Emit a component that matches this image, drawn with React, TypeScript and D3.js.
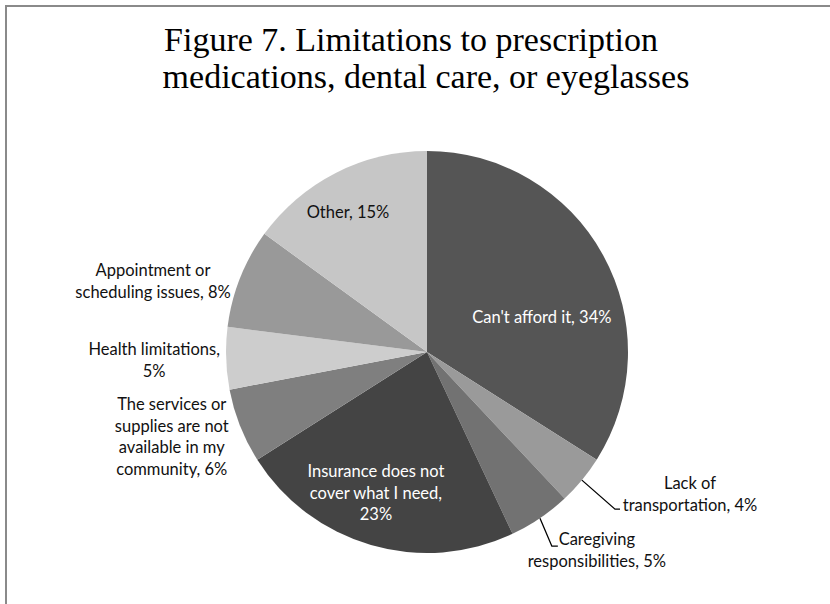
import React from "react";
import * as d3 from "d3";

const categories = [
  "Can't afford it",
  "Lack of transportation",
  "Caregiving responsibilities",
  "Insurance does not cover what I need",
  "The services or supplies are not available in my community",
  "Health limitations",
  "Appointment or scheduling issues",
  "Other",
];
const values = [34, 4, 5, 23, 6, 5, 8, 15];
const labelLines = [
  ["Can't afford it, 34%"],
  ["Lack of", "transportation, 4%"],
  ["Caregiving", "responsibilities, 5%"],
  ["Insurance does not", "cover what I need,", "23%"],
  ["The services or", "supplies are not", "available in my", "community, 6%"],
  ["Health limitations,", "5%"],
  ["Appointment or", "scheduling issues, 8%"],
  ["Other, 15%"],
];
const titleLines = [
  "Figure 7. Limitations to prescription",
  "medications, dental care, or eyeglasses",
];

// styling / layout (not data)
const colors = ["#555555", "#9a9a9a", "#727272", "#444444", "#7f7f7f", "#cdcdcd", "#999999", "#c6c6c6"];
const textColors = ["#ffffff", "#111", "#111", "#ffffff", "#111", "#111", "#111", "#111"];
const titleX = [411, 426];
// label block centre relative to pie centre, in polar form (deg clockwise from 12 o'clock, radius px)
const labelPolar = [
  [73.1, 120],
  [118.4, 299],
  [139.4, 261],
  [199.9, 150],
  [251.6, 269],
  [268.3, 273],
  [284.5, 283],
  [330.6, 161],
];
// leader line: [elbow dx, end dx, dy] relative to label centre, or null
const leaders: (number[] | null)[] = [
  null,
  [-75, -70, 15],
  [-45, -39, -4],
  null,
  null,
  null,
  null,
  null,
];

const W = 830;
const H = 604;
const cx = 427;
const cy = 352;
const R = 201;
const lineH = 21.5;

export default function App() {
  const pie = d3.pie<number>().value((d) => d).sort(null);
  const arcs = pie(values);
  const arcGen = d3.arc<d3.PieArcDatum<number>>().innerRadius(0).outerRadius(R);

  const polar = (deg: number, r: number) => {
    const a = (deg * Math.PI) / 180;
    return [Math.sin(a) * r, -Math.cos(a) * r];
  };

  return (
    <svg
      width={W}
      height={H}
      style={{ position: "absolute", left: 0, top: 0, background: "#fff" }}
    >
      <rect x={0} y={0} width={W} height={H} fill="#fff" />
      <rect x={6} y={6} width={W + 20} height={H + 20} fill="none" stroke="#8a8a8a" strokeWidth={2} />
      <g fontFamily="'Liberation Serif', 'Times New Roman', serif" fontSize={34} fill="#000" textAnchor="middle">
        {titleLines.map((t, i) => (
          <text key={i} x={titleX[i]} y={51 + i * 37}>
            {t}
          </text>
        ))}
      </g>
      <g transform={`translate(${cx},${cy})`}>
        {arcs.map((a, i) => (
          <path key={categories[i]} d={arcGen(a) || ""} fill={colors[i]} />
        ))}
        {arcs.map((a, i) => {
          const [lx, ly] = polar(labelPolar[i][0], labelPolar[i][1]);
          const lines = labelLines[i];
          const top = ly - ((lines.length - 1) * lineH) / 2;
          let leader = null;
          const ld = leaders[i];
          if (ld) {
            const mid = (a.startAngle + a.endAngle) / 2;
            const sx = Math.sin(mid) * R;
            const sy = -Math.cos(mid) * R;
            leader = (
              <polyline
                points={`${sx},${sy} ${lx + ld[0]},${ly + ld[2]} ${lx + ld[1]},${ly + ld[2]}`}
                fill="none"
                stroke="#000"
                strokeWidth={1.3}
              />
            );
          }
          return (
            <g key={"l" + i}>
              {leader}
              <text
                fontFamily="Lato, 'Open Sans', sans-serif"
                fontSize={16.5}
                fill={textColors[i]}
                textAnchor="middle"
              >
                {lines.map((t, j) => (
                  <tspan key={j} x={lx} y={top + j * lineH} dy="0.35em">
                    {t}
                  </tspan>
                ))}
              </text>
            </g>
          );
        })}
      </g>
    </svg>
  );
}
